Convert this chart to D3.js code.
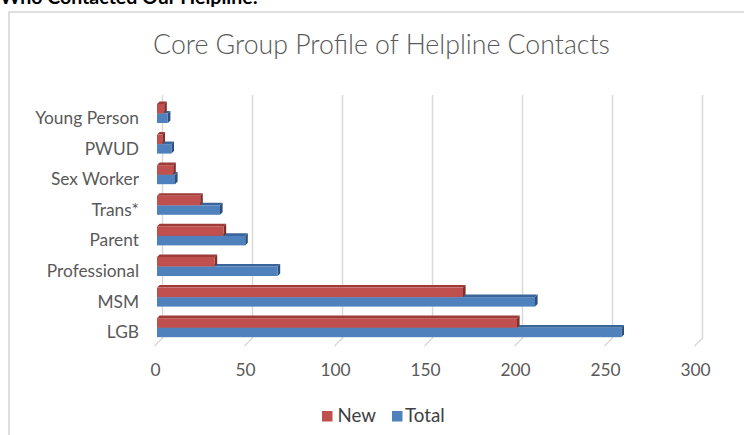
<!DOCTYPE html>
<html>
<head>
<meta charset="utf-8">
<script src="https://cdn.jsdelivr.net/npm/d3@7"></script>
<style>
html,body{margin:0;padding:0;background:#fff;}
svg{display:block;}
</style>
</head>
<body>
<svg id="chart" width="744" height="435"></svg>
<script>
const categories = ["Young Person","PWUD","Sex Worker","Trans*","Parent","Professional","MSM","LGB"];
const newValues = [4,3,9,24,37,32,170,200];
const totalValues = [6,8,10,35,49,67,210,258];
const seriesNames = ["New","Total"];
const tickValues = [0,50,100,150,200,250,300];
const heading = "Who Contacted Our Helpline:";
const chartTitle = "Core Group Profile of Helpline Contacts";

const FONT = "Lato, 'Open Sans', sans-serif";
const colors = {
  New:   {front:"#C0504D", top:"#9E3B38", side:"#7F2E2C"},
  Total: {front:"#4F81BD", top:"#3A659A", side:"#2C4F7C"}
};
const textColor = "#595959";
const gridColor = "#d9d9d9";

const svg = d3.select("#chart");

// helper: fit font size so text width matches target
function fitSize(txt, target, weight, base){
  const t = svg.append("text").attr("font-family",FONT).attr("font-weight",weight||"normal")
    .attr("font-size",base).text(txt);
  const w = t.node().getComputedTextLength();
  t.remove();
  return base*target/w;
}

// outer heading (cut off at top)
const headSize = fitSize(heading, 258, "bold", 20);
svg.append("text").attr("x",0).attr("y",4)
  .attr("font-family",FONT).attr("font-weight","bold").attr("font-size",headSize)
  .attr("fill","#000").text(heading);

// chart border
svg.append("path").attr("d","M9,435V12H744")
  .attr("fill","none").attr("stroke","#d4d4d4").attr("stroke-width",1.5);

// title
const titleSize = fitSize(chartTitle, 457, "300", 22);
svg.append("text").attr("x",381.5).attr("y",54).attr("text-anchor","middle")
  .attr("font-family",FONT).attr("font-weight","300").attr("font-size",titleSize)
  .attr("fill",textColor).text(chartTitle);

// scales
const xBack = d3.scaleLinear().domain([0,300]).range([162.5,702.5]);
const depthX = 5.5;   // bar front plane offset from back wall
const floorDX = 8, floorDY = 8;
const xBar = v => xBack(v) - depthX;
const y = d3.scaleBand().domain(categories).range([99, 99+30.6*8]).padding(0);
const ySub = d3.scaleBand().domain(seriesNames).range([5, 24]).padding(0);

const wallTop = 95, wallBottom = 338;

// gridlines: back wall + floor slant
const grid = svg.append("g");
tickValues.forEach(v=>{
  const x0 = xBack(v);
  grid.append("path")
    .attr("d",`M${x0},${wallTop}V${wallBottom}L${x0-floorDX},${wallBottom+floorDY}`)
    .attr("fill","none").attr("stroke",gridColor).attr("stroke-width",1.5);
});

// axis labels font
const labelSize = fitSize("Young Person", 104, "normal", 15);

// x tick labels
const xAxis = d3.axisBottom(d3.scaleLinear().domain([0,300]).range([xBack(0)-7.5, xBack(300)-7.5]))
  .tickValues(tickValues).tickSize(0).tickPadding(0);
const gx = svg.append("g").attr("transform","translate(0,360)").call(xAxis);
gx.select(".domain").remove();
gx.selectAll("text").attr("font-family",FONT).attr("font-size",labelSize)
  .attr("fill",textColor).attr("dy","0.4em").attr("y",9);

// y category labels
const yAxis = d3.axisLeft(d3.scaleOrdinal().domain(categories).range(categories.map(c=>y(c)+18.5)))
  .tickSize(0).tickPadding(0);
const gy = svg.append("g").attr("transform","translate(139,0)").call(yAxis);
gy.select(".domain").remove();
gy.selectAll("text").attr("font-family",FONT).attr("font-size",labelSize)
  .attr("fill",textColor).attr("dy","0.35em");

// bars (3D)
const bd = 2.6; // depth of bar
const data = [];
categories.forEach((c,i)=>{
  data.push({cat:c, series:"Total", value:totalValues[i]});
  data.push({cat:c, series:"New", value:newValues[i]});
});
const bars = svg.append("g");
data.forEach(d=>{
  const x0 = xBar(0), x1 = xBar(d.value);
  const y0 = y(d.cat) + ySub(d.series), h = ySub.bandwidth();
  const col = colors[d.series];
  const g = bars.append("g");
  // top face
  g.append("path").attr("d",`M${x0},${y0}L${x0+bd},${y0-bd}L${x1+bd},${y0-bd}L${x1},${y0}Z`)
    .attr("fill",col.top);
  // side face
  g.append("path").attr("d",`M${x1},${y0}L${x1+bd},${y0-bd}L${x1+bd},${y0+h-bd}L${x1},${y0+h}Z`)
    .attr("fill",col.side);
  // front face
  g.append("rect").attr("x",x0).attr("y",y0).attr("width",Math.max(0,x1-x0)).attr("height",h)
    .attr("fill",col.front);
});

// legend
const legend = svg.append("g");
const legendItems = [{name:"New", sx:322, tx:337.5},{name:"Total", sx:392, tx:405}];
legendItems.forEach(it=>{
  legend.append("rect").attr("x",it.sx).attr("y",411).attr("width",10.5).attr("height",10.5)
    .attr("fill",colors[it.name].front);
  legend.append("text").attr("x",it.tx).attr("y",422).attr("font-family",FONT)
    .attr("font-size",labelSize*1.08).attr("fill","#404040").text(it.name);
});
</script>
</body>
</html>
